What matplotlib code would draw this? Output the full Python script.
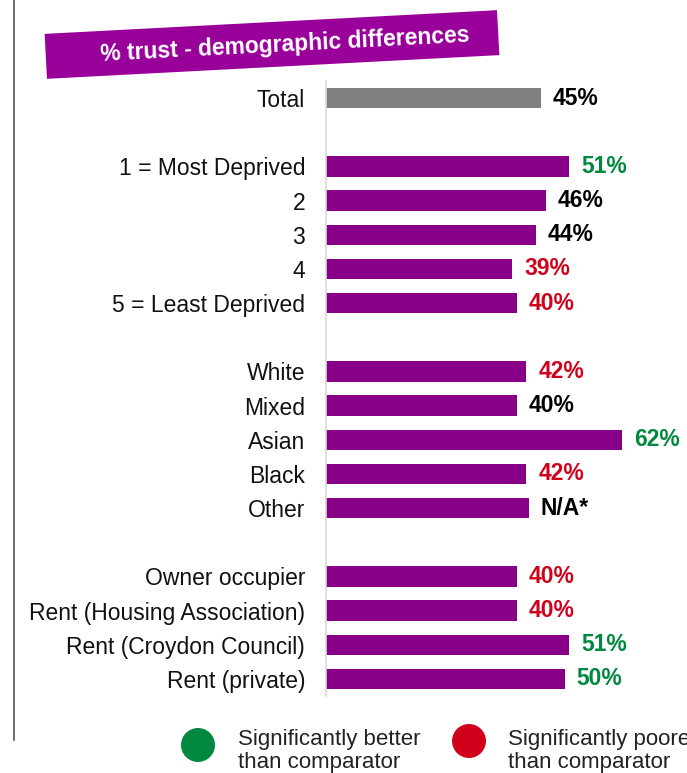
import matplotlib
matplotlib.use("Agg")
import matplotlib.pyplot as plt
from matplotlib.patches import Rectangle, Circle
from matplotlib.transforms import Affine2D

plt.rcParams["font.family"] = ["Liberation Sans", "DejaVu Sans"]

# Data
categories = ["Total",
              "1 = Most Deprived", "2", "3", "4", "5 = Least Deprived",
              "White", "Mixed", "Asian", "Black", "Other",
              "Owner occupier", "Rent (Housing Association)",
              "Rent (Croydon Council)", "Rent (private)"]
values = [45, 51, 46, 44, 39, 40, 42, 40, 62, 42, 42.5, 40, 40, 51, 50]
value_labels = ["45%", "51%", "46%", "44%", "39%", "40%", "42%", "40%",
                "62%", "42%", "N/A*", "40%", "40%", "51%", "50%"]
# significance vs comparator: "b" better, "p" poorer, "n" no difference
significance = ["n", "b", "n", "n", "p", "p", "p", "n", "b", "p", "n",
                "p", "p", "b", "b"]
# row positions with a blank row between groups
rows = [0, 2, 3, 4, 5, 6, 8, 9, 10, 11, 12, 14, 15, 16, 17]

PURPLE = "#880088"
BANNER = "#990099"
GREY_BAR = "#808080"
GREEN = "#00893E"
RED = "#D0021B"
sig_colors = {"b": GREEN, "p": RED, "n": "#000000"}

W, H = 687, 773
fig = plt.figure(figsize=(W / 100, H / 100), dpi=100)
px = Affine2D().scale(1 / W, 1 / H) + fig.transFigure  # pixel coords (y up)

ax = fig.add_axes([326 / W, (H - 696) / H, 358 / W, 615 / H])
bar_colors = [GREY_BAR] + [PURPLE] * (len(values) - 1)
ax.barh(rows, values, height=0.6, color=bar_colors, edgecolor="none")
ax.set_xlim(0, 75)
ax.set_ylim(17.5, -0.5)
ax.set_yticks(rows, categories, fontsize=16.5, color="#111111")
ax.tick_params(axis="y", length=0, pad=15)
ax.set_xticks([])
for s in ["top", "right", "bottom"]:
    ax.spines[s].set_visible(False)
ax.spines["left"].set_color("#d9d9d9")
ax.spines["left"].set_linewidth(1.2)

for r, v, lab, sg in zip(rows, values, value_labels, significance):
    ax.annotate(lab, xy=(v, r), xytext=(8.5, 0), textcoords="offset points",
                ha="left", va="center", fontsize=16.5, fontweight="bold",
                color=sig_colors[sg])

# left border rule
fig.add_artist(plt.Line2D([14, 14], [H, H - 740], transform=px,
                          color="#555555", linewidth=1.2))

# slanted title banner
angle = 3.0
cx, cy = 272, H - 44.5
bw, bh = 453, 45
banner = Rectangle((cx - bw / 2, cy - bh / 2), bw, bh, angle=angle,
                   rotation_point="center", facecolor=BANNER,
                   edgecolor="none", transform=px)
fig.add_artist(banner)
fig.text(285 / W, (H - 45) / H, "% trust - demographic differences",
         rotation=angle, rotation_mode="anchor", ha="center", va="center",
         fontsize=16.5, fontweight="bold", color="white")

# significance key
fig.add_artist(Circle((198, H - 745), 17, transform=px, facecolor=GREEN,
                      edgecolor="none"))
fig.add_artist(Circle((469, H - 741), 17, transform=px, facecolor=RED,
                      edgecolor="none"))
fig.text(238 / W, (H - 751) / H, "Significantly better\nthan comparator",
         ha="left", va="center", fontsize=16, color="#222222",
         linespacing=1.15)
fig.text(508 / W, (H - 751) / H, "Significantly poorer\nthan comparator",
         ha="left", va="center", fontsize=16, color="#222222",
         linespacing=1.15)

fig.savefig("out.png", dpi=100)
